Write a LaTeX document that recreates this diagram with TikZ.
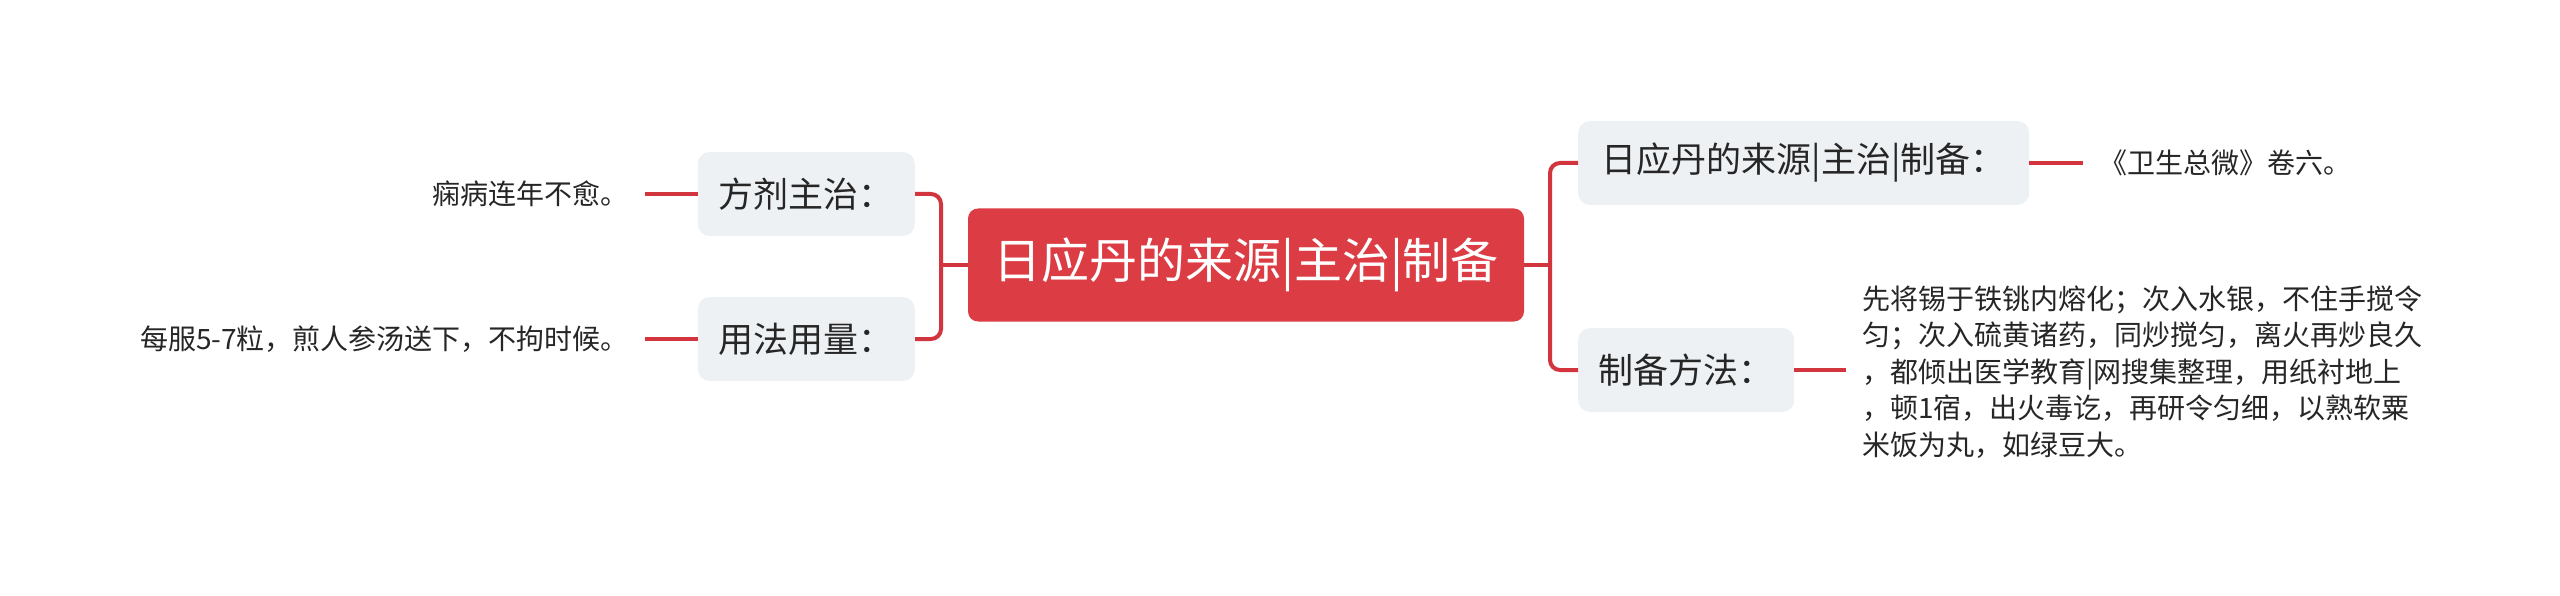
\documentclass[tikz,border=0pt]{standalone}
\usepackage{fontspec}
\setmainfont{Noto Sans CJK SC}
\definecolor{mainred}{HTML}{DC3D44}
\definecolor{boxgrey}{HTML}{EEF1F4}
\definecolor{linered}{HTML}{D2353D}
\definecolor{txt}{HTML}{262626}
\begin{document}
\begin{tikzpicture}[x=1pt,y=-1pt,
  root/.style={fill=mainred, rounded corners=10pt, text=white, font=\fontsize{48}{58}\selectfont, minimum width=556pt, minimum height=113pt, inner sep=0pt},
  branch/.style={fill=boxgrey, rounded corners=12pt, text=txt, font=\fontsize{35}{42}\selectfont, minimum height=84pt, inner xsep=0pt, inner ysep=0pt},
  leaf/.style={text=txt, font=\fontsize{28}{36.5}\selectfont, inner xsep=16pt, inner ysep=0pt},
  link/.style={draw=linered, line width=4pt, rounded corners=10pt}
]
\fill[white] (0,0) rectangle (2560,596);
\useasboundingbox (0,0) rectangle (2560,596);
\node[root] (C) at (1246,265) {日应丹的来源|主治|制备};
\node[branch, anchor=east, minimum width=217pt] (L1) at (915,194) {方剂主治：};
\node[branch, anchor=east, minimum width=217pt] (L2) at (915,339) {用法用量：};
\node[branch, anchor=west, minimum width=451pt] (R1) at (1578,163) {日应丹的来源|主治|制备：};
\node[branch, anchor=west, minimum width=216pt] (R2) at (1578,370) {制备方法：};
\node[leaf, anchor=east] (A1) at (645,194) {痫病连年不愈。};
\node[leaf, anchor=east] (A2) at (645,339) {每服5-7粒，煎人参汤送下，不拘时候。};
\node[leaf, anchor=west] (B1) at (2083,163) {《卫生总微》卷六。};
\node[leaf, anchor=west, align=left] (B2) at (1846,372) {先将锡于铁铫内熔化；次入水银，不住手搅令\\匀；次入硫黄诸药，同炒搅匀，离火再炒良久\\，都倾出医学教育|网搜集整理，用纸衬地上\\，顿1宿，出火毒讫，再研令匀细，以熟软粟\\米饭为丸，如绿豆大。};
\coordinate (LJ) at (941,265);
\coordinate (RJ) at (1550,265);
\draw[link] (C.west) -- (LJ);
\draw[link] (L1.east) -| (LJ) |- (L2.east);
\draw[link] (C.east) -- (RJ);
\draw[link] (R1.west) -| (RJ) |- (R2.west);
\draw[link] (L1.west) -- (A1.east);
\draw[link] (L2.west) -- (A2.east);
\draw[link] (R1.east) -- (B1.west);
\draw[link] (R2.east) -- (R2.east -| B2.west);
\end{tikzpicture}
\end{document}
